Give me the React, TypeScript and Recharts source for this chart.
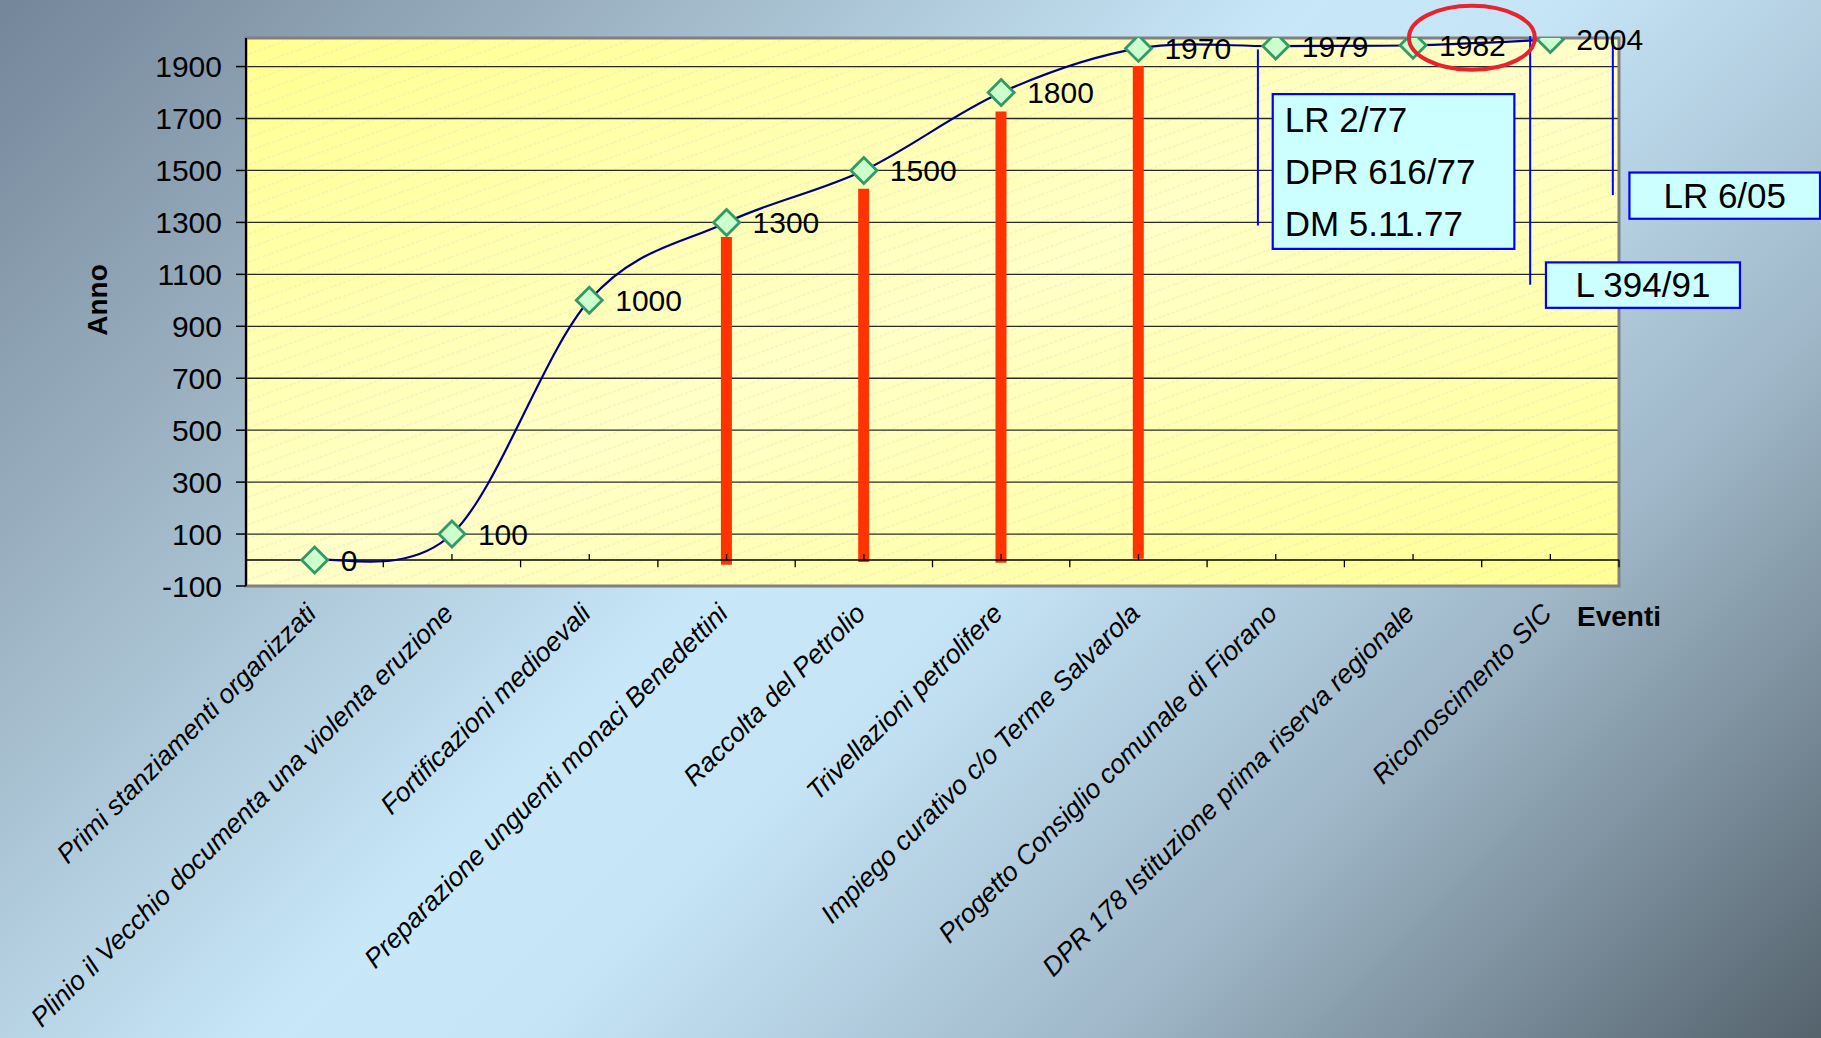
import React from 'react';
import {
  ComposedChart, Line, Bar, XAxis, YAxis, CartesianGrid,
  ReferenceLine, ReferenceArea, ReferenceDot, LabelList,
} from 'recharts';

// ---------- data ----------
const categories = [
  'Primi stanziamenti organizzati',
  'Plinio il Vecchio documenta una violenta eruzione',
  'Fortificazioni medioevali',
  'Preparazione unguenti monaci Benedettini',
  'Raccolta del Petrolio',
  'Trivellazioni petrolifere',
  'Impiego curativo c/o Terme Salvarola',
  'Progetto Consiglio comunale di Fiorano',
  'DPR 178 Istituzione prima riserva regionale',
  'Riconoscimento SIC',
];
const categoryIndex = [0, 1, 2, 3, 4, 5, 6, 7, 8, 9];
const years = [0, 100, 1000, 1300, 1500, 1800, 1970, 1979, 1982, 2004];
const redBarLow = [null, null, null, -18, -8, -10, 5, null, null, null];
const redBarHigh = [null, null, null, 1244, 1430, 1727, 1902, null, null, null];
const yTicks = [-100, 100, 300, 500, 700, 900, 1100, 1300, 1500, 1700, 1900];

// axis decoration (zero line ticks), in category units
const zeroMajorTicks = [-0.5, 0.5, 1.5, 2.5, 3.5, 4.5, 5.5, 6.5, 7.5, 8.5, 9.5];
const zeroMinorTicks = [0, 1, 2, 3, 4, 5, 6, 7, 8, 9];

// annotations (data coordinates: x in category units, y in years)
const calloutLines = [
  { x: 6.87, y1: 1966, y2: 1288 },
  { x: 8.853, y1: 2017, y2: 1060 },
  { x: 9.455, y1: 2014, y2: 1405 },
];
const noteBoxes = [
  { x1: 6.978, x2: 8.738, y1: 1198, y2: 1794, lines: ['LR 2/77', 'DPR 616/77', 'DM 5.11.77'], align: 'left' },
  { x1: 8.968, x2: 10.381, y1: 971, y2: 1146, lines: ['L 394/91'], align: 'center' },
  { x1: 9.576, x2: 10.964, y1: 1314, y2: 1492, lines: ['LR 6/05'], align: 'center' },
];
const highlight = { x: 8.429, y: 2011 };

const data = categoryIndex.map((i) => ({
  idx: i,
  name: categories[i],
  year: years[i],
  bar: redBarHigh[i] == null ? null : [redBarLow[i], redBarHigh[i]],
}));

const FONT = '"Liberation Sans", Arial, sans-serif';

// Excel-like smoothed line (Catmull-Rom style Bezier)
function excelSmooth(context: any) {
  let pts: number[][] = [];
  return {
    areaStart() {},
    areaEnd() {},
    lineStart() { pts = []; },
    lineEnd() {
      const n = pts.length;
      if (!n) return;
      context.moveTo(pts[0][0], pts[0][1]);
      for (let i = 0; i < n - 1; i++) {
        const p0 = pts[Math.max(i - 1, 0)];
        const p1 = pts[i];
        const p2 = pts[i + 1];
        const p3 = pts[Math.min(i + 2, n - 1)];
        context.bezierCurveTo(
          p1[0] + (p2[0] - p0[0]) / 6, p1[1] + (p2[1] - p0[1]) / 6,
          p2[0] - (p3[0] - p1[0]) / 6, p2[1] - (p3[1] - p1[1]) / 6,
          p2[0], p2[1],
        );
      }
    },
    point(x: number, y: number) { pts.push([+x, +y]); },
  };
}

const Diamond = (props: any) => {
  const { cx, cy, index } = props;
  if (cx == null || cy == null) return <g key={`d${index}`} />;
  const s = 13;
  return (
    <polygon
      key={`d${index}`}
      points={`${cx},${cy - s} ${cx + s},${cy} ${cx},${cy + s} ${cx - s},${cy}`}
      fill="#CCFFCC"
      stroke="#339966"
      strokeWidth={2.8}
    />
  );
};

const YearLabel = (props: any) => {
  const { x, y, value } = props;
  return (
    <text x={x + 26} y={y} dy="0.35em" fontSize={30} fill="#000" fontFamily={FONT}>
      {value}
    </text>
  );
};

const CatTick = (props: any) => {
  const { x, y, payload } = props;
  const label = categories[payload.value];
  if (!label) return null;
  return (
    <text
      transform={`translate(${x + 3},${y + 29}) rotate(-45)`}
      textAnchor="end"
      fontSize={26.6}
      fontStyle="italic"
      fill="#000"
      fontFamily={FONT}
    >
      {label}
    </text>
  );
};

const AnnoLabel = (props: any) => {
  const vb = props.viewBox || {};
  const cx = vb.x + 51;
  const cy = vb.y + vb.height / 2 - 12;
  return (
    <text
      transform={`translate(${cx},${cy}) rotate(-90)`}
      textAnchor="middle"
      dy="0.35em"
      fontSize={28}
      fontWeight="bold"
      fill="#000"
      fontFamily={FONT}
    >
      Anno
    </text>
  );
};

const EventiLabel = (props: any) => {
  const vb = props.viewBox || {};
  return (
    <text
      x={vb.x + vb.width}
      y={vb.y + 30}
      dy="0.35em"
      textAnchor="middle"
      fontSize={28}
      fontWeight="bold"
      fill="#000"
      fontFamily={FONT}
    >
      Eventi
    </text>
  );
};

const makeBoxShape = (lines: string[], align: string) => (props: any) => {
  const { x, y, width, height } = props;
  const lineGap = 52;
  const fs = 35;
  const n = lines.length;
  const firstY = y + height / 2 - ((n - 1) * lineGap) / 2;
  return (
    <g>
      <rect x={x} y={y} width={width} height={height} fill="#CCFFFF" stroke="#0000FF" strokeWidth={2.2} />
      {lines.map((t, i) => (
        <text
          key={t}
          x={align === 'left' ? x + 12 : x + width / 2}
          y={firstY + i * lineGap}
          dy="0.35em"
          textAnchor={align === 'left' ? 'start' : 'middle'}
          fontSize={fs}
          fill="#000"
          fontFamily={FONT}
        >
          {t}
        </text>
      ))}
    </g>
  );
};

const EllipseShape = (props: any) => {
  const { cx, cy } = props;
  return <ellipse cx={cx} cy={cy} rx={63} ry={32} fill="none" stroke="#E8232B" strokeWidth={4} />;
};

export default function App() {
  return (
    <div
      style={{
        position: 'absolute',
        left: 0,
        top: 0,
        width: 1821,
        height: 1038,
        fontFamily: FONT,
        background:
          'linear-gradient(135deg, #73869a 0%, #9ab0c0 20%, #c8e8fa 46%, #c5e4f6 55%, #9fb7c8 75%, #55636d 100%)',
        overflow: 'hidden',
      }}
    >
      <ComposedChart
        width={1821}
        height={1038}
        data={data}
        margin={{ top: 38, right: 202, bottom: 0, left: 46 }}
      >
        <defs>
          <linearGradient id="plotBg" x1="0" y1="0" x2="1" y2="1">
            <stop offset="0%" stopColor="#FFFF90" />
            <stop offset="50%" stopColor="#FFFFC8" />
            <stop offset="100%" stopColor="#FFFF94" />
          </linearGradient>
          <pattern id="hatch" width="24" height="13" patternUnits="userSpaceOnUse" patternTransform="rotate(-20)">
            <line x1="0" y1="6" x2="24" y2="6" stroke="#d8d8c0" strokeOpacity={0.55} strokeWidth={1} strokeDasharray="3 2" />
          </pattern>
        </defs>

        <CartesianGrid fill="url(#plotBg)" fillOpacity={1} horizontal={false} vertical={false} />
        <CartesianGrid
          fill="url(#hatch)"
          fillOpacity={1}
          vertical={false}
          horizontalValues={yTicks}
          stroke="#2a2a2a"
          strokeWidth={1.3}
        />

        <XAxis
          type="number"
          dataKey="idx"
          domain={[-0.5, 9.5]}
          ticks={categoryIndex}
          interval={0}
          allowDataOverflow
          height={452}
          tickSize={0}
          tickMargin={0}
          tickLine={false}
          axisLine={false}
          tick={<CatTick />}
          label={<EventiLabel />}
        />
        <YAxis
          type="number"
          domain={[-100, 2010]}
          ticks={yTicks}
          allowDataOverflow
          width={200}
          tickSize={10}
          tickMargin={14}
          tick={{ fontSize: 30, fill: '#000', fontFamily: FONT }}
          tickLine={{ stroke: '#000', strokeWidth: 1.5 }}
          axisLine={{ stroke: '#000', strokeWidth: 2 }}
          label={<AnnoLabel />}
        />

        <ReferenceArea
          x1={-0.5}
          x2={9.5}
          y1={-100}
          y2={2010}
          fill="none"
          stroke="#808080"
          strokeWidth={3}
          ifOverflow="visible"
        />

        <ReferenceLine y={0} stroke="#000" strokeWidth={1.5} ifOverflow="visible" />
        {zeroMajorTicks.map((t) => (
          <ReferenceLine
            key={`mj${t}`}
            segment={[{ x: t, y: 0 }, { x: t, y: -28 }]}
            stroke="#000"
            strokeWidth={1.3}
            ifOverflow="visible"
          />
        ))}
        {zeroMinorTicks.map((t) => (
          <ReferenceLine
            key={`mn${t}`}
            segment={[{ x: t, y: 0 }, { x: t, y: 23 }]}
            stroke="#000"
            strokeWidth={1.3}
            ifOverflow="visible"
          />
        ))}

        <Bar dataKey="bar" fill="#FF3300" barSize={11} isAnimationActive={false} />

        <Line
          type={excelSmooth as any}
          dataKey="year"
          stroke="#000080"
          strokeWidth={2.2}
          dot={(p: any) => <Diamond {...p} />}
          activeDot={false}
          isAnimationActive={false}
        >
          <LabelList dataKey="year" content={<YearLabel />} />
        </Line>

        {calloutLines.map((c, i) => (
          <ReferenceLine
            key={`cl${i}`}
            segment={[{ x: c.x, y: c.y1 }, { x: c.x, y: c.y2 }]}
            stroke="#0000FF"
            strokeWidth={2}
            ifOverflow="visible"
          />
        ))}
        {noteBoxes.map((b, i) => (
          <ReferenceArea
            key={`nb${i}`}
            x1={b.x1}
            x2={b.x2}
            y1={b.y1}
            y2={b.y2}
            ifOverflow="visible"
            shape={makeBoxShape(b.lines, b.align)}
          />
        ))}
        <ReferenceDot x={highlight.x} y={highlight.y} r={30} ifOverflow="visible" shape={(p: any) => <EllipseShape {...p} />} />
      </ComposedChart>
    </div>
  );
}
